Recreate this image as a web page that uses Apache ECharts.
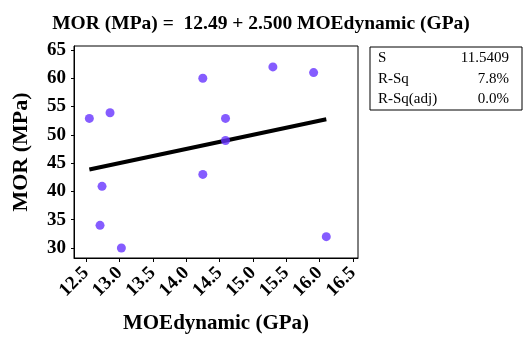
<!DOCTYPE html>
<html><head><meta charset="utf-8">
<script src="https://cdn.jsdelivr.net/npm/echarts@6/dist/echarts.min.js"></script>
<style>html,body{margin:0;padding:0;background:#fff}#c{width:524px;height:346px}</style>
</head><body><div id="c"></div>
<script>
const moe = [12.55, 12.86, 12.74, 12.71, 13.03, 14.25, 14.25, 14.59, 14.59, 15.30, 15.91, 16.10];
const mor = [52.9, 53.9, 40.9, 34.0, 30.0, 60.0, 43.0, 52.9, 49.0, 62.0, 61.0, 32.0];
const fitIntercept = 12.49;
const fitSlope = 2.500;
const xTicks = [12.5, 13.0, 13.5, 14.0, 14.5, 15.0, 15.5, 16.0, 16.5];
const yTicks = [30, 35, 40, 45, 50, 55, 60, 65];
const titleText = 'MOR (MPa) =  12.49 + 2.500 MOEdynamic (GPa)';
const xName = 'MOEdynamic (GPa)';
const yName = 'MOR (MPa)';
const statLabels = ['S', 'R-Sq', 'R-Sq(adj)'];
const statValues = ['11.5409', '7.8%', '0.0%'];

const xmin = Math.min(...moe), xmax = Math.max(...moe);
const fitLine = [[xmin, fitIntercept + fitSlope * xmin], [xmax, fitIntercept + fitSlope * xmax]];
const F = 'Liberation Serif';

const graphic = [{
  type: 'rect', shape: {x: 370, y: 47, width: 152, height: 63},
  style: {fill: '#fff', stroke: '#000', lineWidth: 1}
}];
statLabels.forEach((s, i) => {
  graphic.push({type: 'text', left: 378, top: 51 + i * 20.5,
    style: {text: s, font: '15px "' + F + '"', fill: '#000'}});
  graphic.push({type: 'text', right: 524 - 509, top: 51 + i * 20.5,
    style: {text: statValues[i], font: '15px "' + F + '"', fill: '#000', align: 'right'}});
});

const chart = echarts.init(document.getElementById('c'), null, {renderer: 'canvas'});
chart.setOption({
  animation: false,
  backgroundColor: '#fff',
  title: {text: titleText, left: 256, textAlign: 'center', top: 9,
    textStyle: {fontFamily: F, fontWeight: 'bold', fontSize: 19.5, color: '#000'}},
  grid: {left: 74, right: 166, top: 46, bottom: 88, show: true, borderColor: '#000', borderWidth: 1, backgroundColor: 'transparent'},
  xAxis: {
    type: 'value', min: 12.32, max: 16.575,
    name: xName, nameLocation: 'middle', nameGap: 55,
    nameTextStyle: {fontFamily: F, fontWeight: 'bold', fontSize: 21, color: '#000'},
    axisLine: {show: true, lineStyle: {color: '#000'}},
    axisTick: {show: true, length: 4, lineStyle: {color: '#000'}, customValues: xTicks},
    axisLabel: {customValues: xTicks, rotate: 45, margin: 12, color: '#000', fontFamily: F, fontWeight: 'bold', fontSize: 19,
      formatter: v => v.toFixed(1), showMinLabel: true, showMaxLabel: true},
    splitLine: {show: false}
  },
  yAxis: {
    type: 'value', min: 28.23, max: 65.7,
    name: yName, nameLocation: 'middle', nameGap: 42,
    nameTextStyle: {fontFamily: F, fontWeight: 'bold', fontSize: 22, color: '#000'},
    axisLine: {show: true, lineStyle: {color: '#000'}},
    axisTick: {show: true, length: 3, lineStyle: {color: '#000'}, customValues: yTicks},
    axisLabel: {customValues: yTicks, margin: 8, color: '#000', fontFamily: F, fontWeight: 'bold', fontSize: 19},
    splitLine: {show: false}
  },
  series: [
    {type: 'line', data: fitLine, symbol: 'none', lineStyle: {color: '#000', width: 4}, z: 2},
    {type: 'scatter', data: moe.map((x, i) => [x, mor[i]]), symbol: 'circle', symbolSize: 9,
      itemStyle: {color: '#6633ff'}, z: 3}
  ],
  graphic: graphic
});
</script></body></html>
